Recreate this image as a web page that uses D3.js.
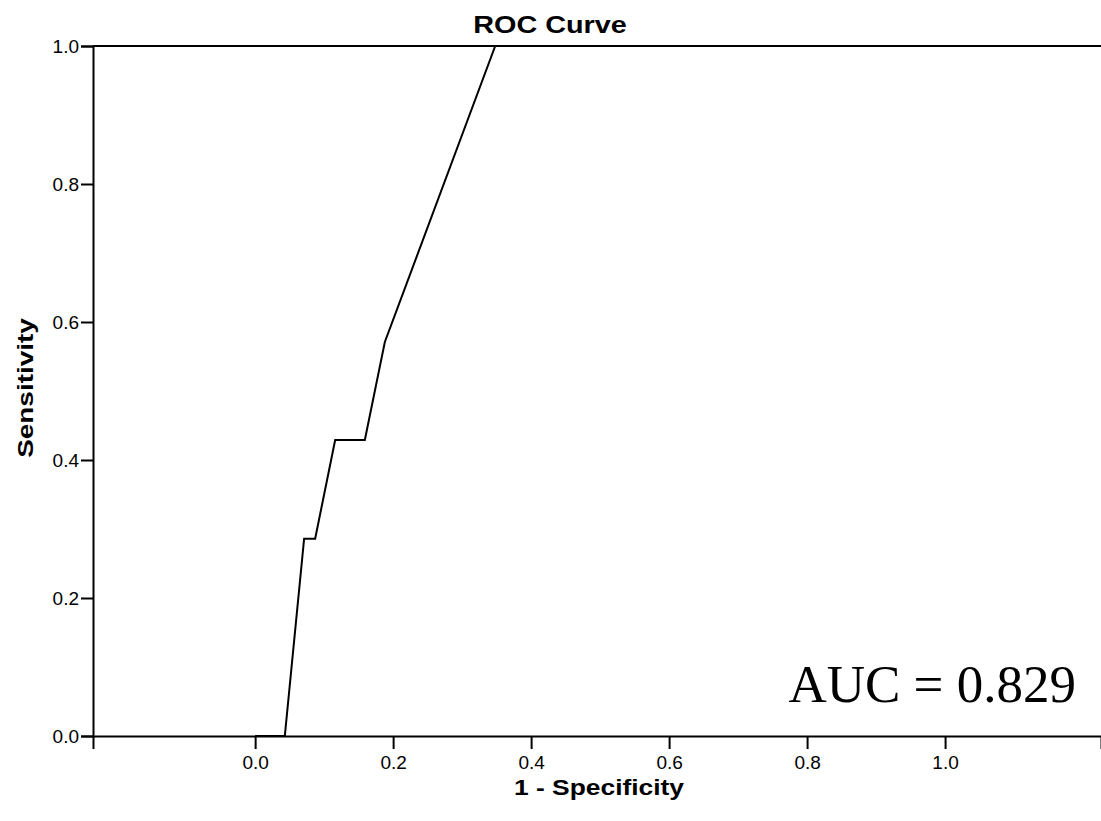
<!DOCTYPE html>
<html>
<head>
<meta charset="utf-8">
<script src="https://cdn.jsdelivr.net/npm/d3@7"></script>
<style>
  body { margin: 0; background: #fff; }
  svg text { font-family: Arial, "Liberation Sans", sans-serif; fill: #000; }
</style>
</head>
<body>
<div id="chart"></div>
<script>
// ROC points
let fpr = [0, 0.043, 0.071, 0.087, 0.116, 0.159, 0.188, 0.348, 1.0];
let tpr = [0, 0, 0.286, 0.286, 0.429, 0.429, 0.571, 1.0, 1.0];

let tickValues = [0, 0.2, 0.4, 0.6, 0.8, 1.0];
let xExtent = [-0.235, 1.226];   // plot frame runs a bit past 0..1 on x
let yExtent = [0, 1];

let titleText = "ROC Curve";
let xLabel = "1 - Specificity";
let yLabel = "Sensitivity";
let aucText = "AUC = 0.829";

main();

function main() {
    let width = 1101, height = 821;
    let margin = {top: 46, right: 0, bottom: 85, left: 93};
    let stretch = 1.2;   // the original text is a bit wider than plain Arial

    let svg = d3.select("#chart").append("svg")
        .attr("width", width)
        .attr("height", height);

    let x = d3.scaleLinear().domain(xExtent).range([margin.left, width - margin.right]);
    let y = d3.scaleLinear().domain(yExtent).range([height - margin.bottom, margin.top]);

    // y axis
    let yAxis = d3.axisLeft(y)
        .tickValues(tickValues)
        .tickFormat(d3.format(".1f"))
        .tickSizeOuter(0)
        .tickSize(12)
        .tickPadding(2);
    let gy = svg.append("g")
        .attr("transform", "translate(" + margin.left + ",0)")
        .call(yAxis);

    // x axis
    let xAxis = d3.axisBottom(x)
        .tickValues(tickValues)
        .tickFormat(d3.format(".1f"))
        .tickSizeOuter(0)
        .tickSize(13)
        .tickPadding(7);
    let gx = svg.append("g")
        .attr("transform", "translate(0," + y(0) + ")")
        .call(xAxis);

    [gx, gy].forEach(g => {
        g.select(".domain").attr("stroke", "#000").attr("stroke-width", 2);
        g.selectAll(".tick line").attr("stroke", "#000").attr("stroke-width", 2);
        g.selectAll(".tick text")
            .attr("font-size", 19)
            .attr("font-family", "Arial, 'Liberation Sans', sans-serif")
            .attr("fill", "#000");
    });

    // top frame line
    svg.append("line")
        .attr("x1", x(xExtent[0])).attr("x2", x(xExtent[1]))
        .attr("y1", y(1)).attr("y2", y(1))
        .attr("stroke", "#000")
        .attr("stroke-width", 2);

    // ROC curve
    let pts = fpr.map((d, i) => ({x: d, y: tpr[i]}));
    let line = d3.line()
        .x(d => x(d.x))
        .y(d => y(d.y));
    svg.append("path")
        .datum(pts)
        .attr("d", line)
        .attr("fill", "none")
        .attr("stroke", "#000")
        .attr("stroke-width", 2)
        .attr("stroke-linejoin", "miter");

    // title
    svg.append("text")
        .attr("transform", "translate(550,33) scale(" + stretch + ",1)")
        .attr("text-anchor", "middle")
        .attr("font-size", 24)
        .attr("font-weight", "bold")
        .text(titleText);

    // axis labels
    svg.append("text")
        .attr("transform", "translate(599,795) scale(" + stretch + ",1)")
        .attr("text-anchor", "middle")
        .attr("font-size", 22)
        .attr("font-weight", "bold")
        .text(xLabel);

    svg.append("text")
        .attr("transform", "translate(33,388) rotate(-90) scale(1.27,1)")
        .attr("text-anchor", "middle")
        .attr("font-size", 22)
        .attr("font-weight", "bold")
        .text(yLabel);

    // AUC annotation
    svg.append("text")
        .attr("x", 1076)
        .attr("y", 702)
        .attr("text-anchor", "end")
        .attr("font-size", 53)
        .style("font-family", "'Times New Roman', 'Liberation Serif', serif")
        .text(aucText);
}
</script>
</body>
</html>
